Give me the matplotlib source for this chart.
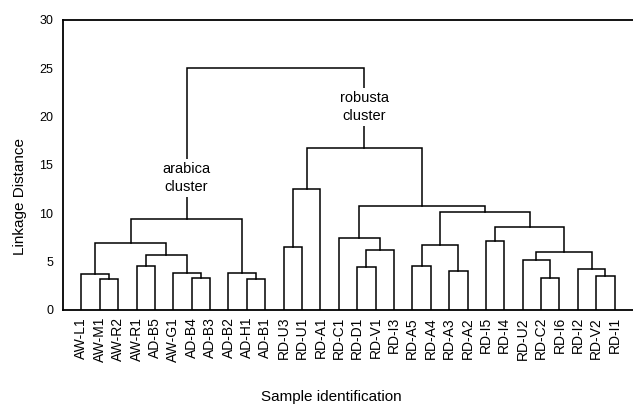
import numpy as np
import matplotlib
matplotlib.use("Agg")
import matplotlib.pyplot as plt

plt.rcParams['font.family'] = ['Liberation Sans', 'DejaVu Sans']

# leaf labels in dendrogram order
leaves = ["AW-L1", "AW-M1", "AW-R2", "AW-R1", "AD-B5", "AW-G1", "AD-B4",
          "AD-B3", "AD-B2", "AD-H1", "AD-B1", "RD-U3", "RD-U1", "RD-A1",
          "RD-C1", "RD-D1", "RD-V1", "RD-I3", "RD-A5", "RD-A4", "RD-A3",
          "RD-A2", "RD-I5", "RD-I4", "RD-U2", "RD-C2", "RD-I6", "RD-I2",
          "RD-V2", "RD-I1"]

# merges: (child a, child b, linkage distance); new cluster ids start at 30
merge_a = [1, 0, 3, 6, 5, 32, 31, 9, 8, 36,
           11, 40, 15, 42, 14, 18, 20, 45, 22, 25,
           24, 28, 27, 50, 48, 47, 44, 41, 39]
merge_b = [2, 30, 4, 7, 33, 34, 35, 10, 37, 38,
           12, 13, 16, 17, 43, 19, 21, 46, 23, 26,
           49, 29, 51, 52, 53, 54, 55, 56, 57]
merge_h = [3.17, 3.72, 4.55, 3.34, 3.79, 5.65, 6.9, 3.17, 3.86, 9.38,
           6.55, 12.55, 4.48, 6.2, 7.45, 4.59, 4.07, 6.72, 7.17, 3.28,
           5.14, 3.52, 4.28, 6.03, 8.59, 10.1, 10.79, 16.8, 25.0]

fig = plt.figure(figsize=(6.33, 4.04), dpi=100)
ax = fig.add_axes([0.0995, 0.2327, 0.9005, 0.7178])

n = len(leaves)
xpos = {i: float(i) for i in range(n)}
ypos = {i: 0.0 for i in range(n)}

lw = 1.1
for k, (a, b, h) in enumerate(zip(merge_a, merge_b, merge_h)):
    xa, xb = xpos[a], xpos[b]
    ax.plot([xa, xa, xb, xb], [ypos[a], h, h, ypos[b]],
            color='black', lw=lw, solid_joinstyle='miter')
    xpos[n + k] = (xa + xb) / 2
    ypos[n + k] = h

# cluster annotations sit over the root legs
ax.text(xpos[39], 13.65, "arabica\ncluster", ha='center', va='center',
        fontsize=10.5, linespacing=1.35,
        bbox=dict(facecolor='white', edgecolor='none', pad=2))
ax.text(xpos[57], 21.0, "robusta\ncluster", ha='center', va='center',
        fontsize=10.5, linespacing=1.35,
        bbox=dict(facecolor='white', edgecolor='none', pad=2))

ax.set_xlim(-1, n)
ax.set_ylim(0, 30)
ax.set_xticks(range(n))
ax.set_xticklabels(leaves, rotation=90, fontsize=10)
ax.set_yticks([0, 5, 10, 15, 20, 25, 30])
ax.tick_params(axis='x', length=0, pad=5)
ax.tick_params(axis='y', length=0, pad=7, labelsize=9)
for s in ['left', 'top', 'bottom']:
    ax.spines[s].set_linewidth(1.3)
ax.spines['right'].set_visible(False)

ax.set_ylabel("Linkage Distance", fontsize=11, va='center')
ax.yaxis.set_label_coords(-0.0754, 0.39)
ax.set_xlabel("Sample identification", fontsize=11, va='top')
ax.xaxis.set_label_coords(0.47, -0.276)

fig.savefig("out.png", dpi=100)
